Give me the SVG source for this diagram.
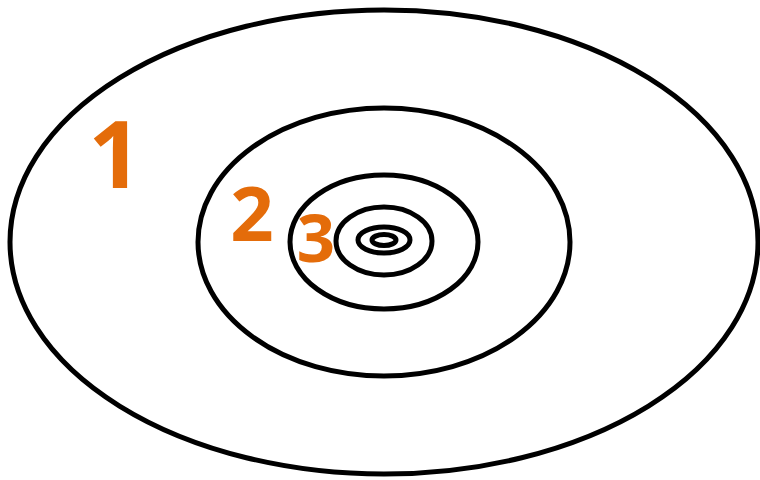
<svg xmlns="http://www.w3.org/2000/svg" width="760" height="480" viewBox="0 0 760 480">
<style>
.ring{fill:none;stroke:#000;stroke-width:5}
.lbl{font-family:"Open Sans","Liberation Sans",sans-serif;font-weight:700;fill:#E46C0A;text-anchor:middle}
</style>
<rect width="760" height="480" fill="#fff"/>
<g id="rings">
<ellipse id="r1" class="ring" cx="384" cy="242" rx="374" ry="232"/>
<ellipse id="r2" class="ring" cx="384" cy="242" rx="186" ry="134"/>
<ellipse id="r3" class="ring" cx="384" cy="242" rx="94" ry="67"/>
<ellipse id="r4" class="ring" cx="384" cy="241" rx="48" ry="34"/>
<ellipse id="r5" class="ring" cx="384" cy="240" rx="26" ry="13"/>
<ellipse id="r6" class="ring" cx="384" cy="240" rx="12" ry="5.5"/>
</g>
<g id="labels">
<text id="t1" class="lbl" x="115" y="188" font-size="94">1</text>
<text id="t2" class="lbl" x="252" y="241" font-size="76">2</text>
<text id="t3" class="lbl" x="316" y="262" font-size="67">3</text>
</g>
</svg>
